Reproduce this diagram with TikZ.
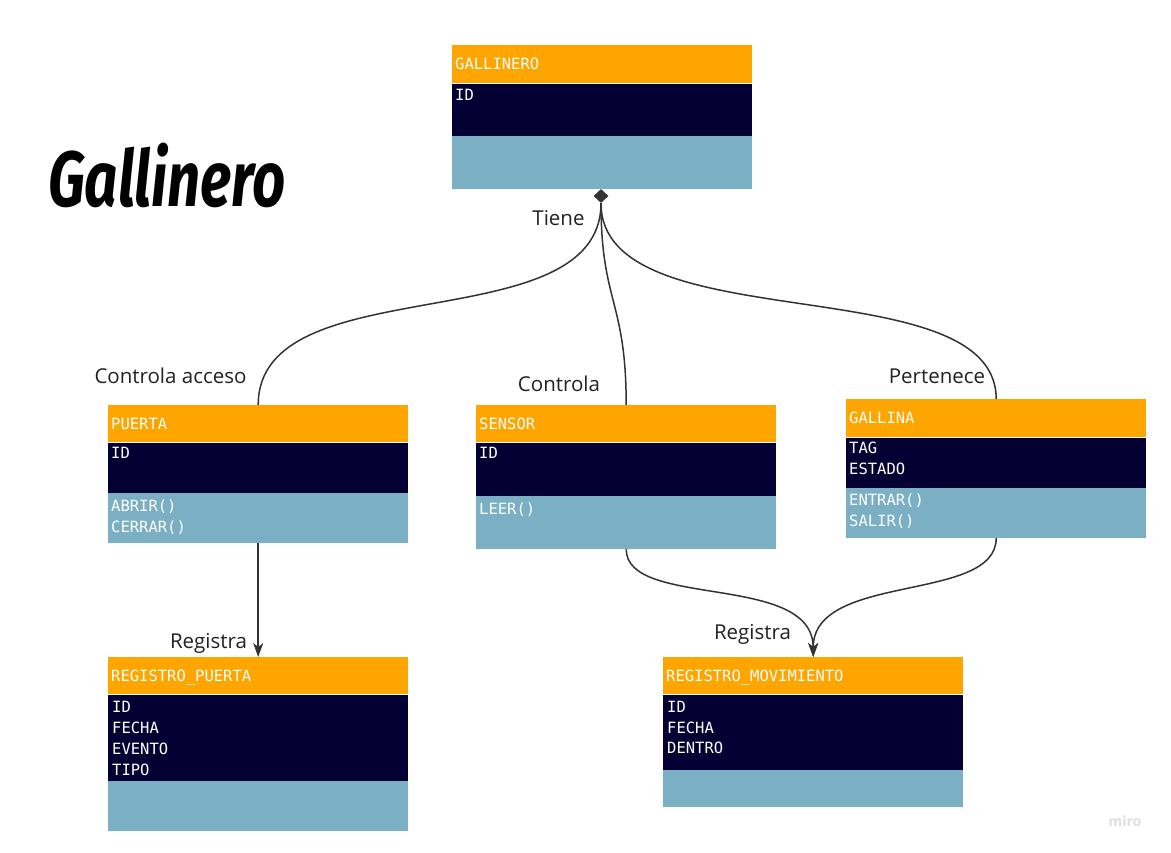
\documentclass[tikz,border=0pt]{standalone}
\usepackage{fontspec}
\setmainfont{Open Sans}
\setmonofont{DejaVu Sans Mono}
\newfontfamily\titlefont{Fira Sans}
\usetikzlibrary{arrows.meta,shapes.geometric}
\definecolor{hdorange}{RGB}{255,165,0}
\definecolor{bodynavy}{RGB}{5,0,51}
\definecolor{opsblue}{RGB}{123,175,196}
\definecolor{linegray}{RGB}{51,51,51}
\definecolor{lbltext}{RGB}{34,34,34}

\begin{document}
\begin{tikzpicture}[x=1pt,y=-1pt,
  hd/.style={anchor=north west,fill=hdorange,minimum width=300pt,minimum height=38pt,
    text width=294pt,inner xsep=3pt,inner ysep=0pt,text height=11.3pt,text depth=0pt,
    align=left,text=white,font=\ttfamily\fontsize{15.5}{21}\selectfont},
  attr/.style={anchor=north west,fill=bodynavy,minimum width=300pt,inner sep=0pt},
  ops/.style={anchor=north west,fill=opsblue,minimum width=300pt,inner sep=0pt},
  fld/.style={anchor=base west,inner sep=0pt,text=white,font=\ttfamily\fontsize{15.5}{21}\selectfont},
  lbl/.style={anchor=base,inner sep=0pt,text=lbltext,font=\fontsize{20.5}{24}\selectfont},
  link/.style={draw=linegray,line width=1.5pt},
  tip/.style={-{Stealth[length=14pt,width=10pt,inset=4pt]}}]
  \fill[white] (0,0) rectangle (1171,853);

  \node[font=\titlefont\bfseries\itshape\fontsize{58}{60}\selectfont,yscale=1.35,anchor=base,inner sep=0pt] (title) at (167,207) {Gallinero};

  \node[hd] (gallinero) at (452,45) {GALLINERO};
  \node[attr,minimum height=52pt] (gallineroA) at (gallinero.south west) {};
  \node[ops,minimum height=53pt] (gallineroO) at (gallineroA.south west) {};
  \foreach \t [count=\i] in {ID}
    \node[fld] (gallineroA-\i) at ([shift={(3,17.5+21*\i-21)}]gallineroA.north west) {\t};

  \node[hd,minimum height=37pt] (puerta) at (108,405) {PUERTA};
  \node[attr,minimum height=50pt] (puertaA) at (puerta.south west) {};
  \node[ops,minimum height=50pt] (puertaO) at (puertaA.south west) {};
  \foreach \t [count=\i] in {ID}
    \node[fld] (puertaA-\i) at ([shift={(3,16.5+21*\i-21)}]puertaA.north west) {\t};
  \foreach \t [count=\i] in {ABRIR(),CERRAR()}
    \node[fld] (puertaO-\i) at ([shift={(3,18.5+21*\i-21)}]puertaO.north west) {\t};

  \node[hd,minimum height=37pt] (sensor) at (476,405) {SENSOR};
  \node[attr,minimum height=53pt] (sensorA) at (sensor.south west) {};
  \node[ops,minimum height=53pt] (sensorO) at (sensorA.south west) {};
  \foreach \t [count=\i] in {ID}
    \node[fld] (sensorA-\i) at ([shift={(3,16.5+21*\i-21)}]sensorA.north west) {\t};
  \foreach \t [count=\i] in {LEER()}
    \node[fld] (sensorO-\i) at ([shift={(3,18.5+21*\i-21)}]sensorO.north west) {\t};

  \node[hd] (gallina) at (846,399) {GALLINA};
  \node[attr,minimum height=50pt] (gallinaA) at (gallina.south west) {};
  \node[ops,minimum height=50pt] (gallinaO) at (gallinaA.south west) {};
  \foreach \t [count=\i] in {TAG,ESTADO}
    \node[fld] (gallinaA-\i) at ([shift={(3,16.5+21*\i-21)}]gallinaA.north west) {\t};
  \foreach \t [count=\i] in {ENTRAR(),SALIR()}
    \node[fld] (gallinaO-\i) at ([shift={(3,17.5+21*\i-21)}]gallinaO.north west) {\t};

  \node[hd,minimum height=37pt] (regpuerta) at (108,657) {REGISTRO\_PUERTA};
  \node[attr,minimum height=86pt] (regpuertaA) at (regpuerta.south west) {};
  \node[ops,minimum height=50pt] (regpuertaO) at (regpuertaA.south west) {};
  \foreach \t [count=\i] in {ID,FECHA,EVENTO,TIPO}
    \node[fld] (regpuertaA-\i) at ([shift={(4,18.5+21*\i-21)}]regpuertaA.north west) {\t};

  \node[hd,minimum height=37pt] (regmov) at (663,657) {REGISTRO\_MOVIMIENTO};
  \node[attr,minimum height=75pt] (regmovA) at (regmov.south west) {};
  \node[ops,minimum height=37pt] (regmovO) at (regmovA.south west) {};
  \foreach \t [count=\i] in {ID,FECHA,DENTRO}
    \node[fld] (regmovA-\i) at ([shift={(4,18.5+20.5*\i-20.5)}]regmovA.north west) {\t};

  \node[diamond,fill=linegray,minimum width=15pt,minimum height=14pt,inner sep=0pt] (dia) at (601,196) {};
  \draw[link] (dia.south) .. controls +(0,140) and +(0,-140) .. (puerta.north);
  \draw[link] (dia.south) .. controls +(0,100) and +(0,-105) .. (sensor.north);
  \draw[link] (dia.south) .. controls +(0,140) and +(0,-134) .. (gallina.north);
  \draw[link,tip] (puertaO.south) -- (regpuerta.north);
  \draw[link,tip] (sensorO.south) .. controls +(0,60) and +(0,-85) .. (regmov.north);
  \draw[link,tip] (gallinaO.south) .. controls +(0,65) and +(0,-85) .. (regmov.north);

  \node[lbl] (tiene) at (558.5,226) {Tiene};
  \node[lbl] (acceso) at (170.5,383) {Controla acceso};
  \node[lbl] (controla) at (559,391) {Controla};
  \node[lbl] (pertenece) at (937,383) {Pertenece};
  \node[lbl] (registraP) at (208.5,648) {Registra};
  \node[lbl] (registraM) at (752.5,639) {Registra};

  \node[font=\bfseries\fontsize{14}{14}\selectfont,text=black!13] (miro) at (1125,821) {miro};
\end{tikzpicture}
\end{document}
